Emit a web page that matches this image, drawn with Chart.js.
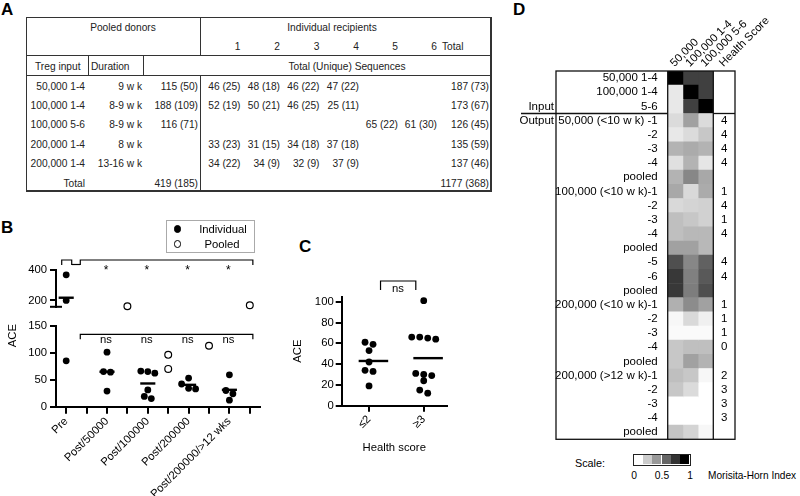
<!DOCTYPE html>
<html>
<head>
<meta charset="utf-8">
<script src="https://cdn.jsdelivr.net/npm/chart.js@4.4.1/dist/chart.umd.min.js"></script>
<style>
  body { margin: 0; background: #fff; }
  #page { position: relative; width: 800px; height: 496px; overflow: hidden; font-family: 'Liberation Sans', Arial, sans-serif; color: #000; }
  .t { position: absolute; white-space: nowrap; line-height: 1.15; }
  .ln { position: absolute; background: #333; }
  .letter { position: absolute; font-weight: bold; font-size: 17px; line-height: 1; }
  canvas { position: absolute; }
</style>
</head>
<body>
<div id="page">
  <div class="letter" style="left:1px;top:1px">A</div>
  <div class="letter" style="left:1px;top:219px">B</div>
  <div class="letter" style="left:299px;top:238px">C</div>
  <div class="letter" style="left:513px;top:1px">D</div>
  <canvas id="bTop" width="270" height="62" style="left:0;top:250px"></canvas>
  <canvas id="bLow" width="270" height="186" style="left:0;top:310px"></canvas>
  <canvas id="cChart" width="170" height="188" style="left:290px;top:270px"></canvas>
  <canvas id="dChart" width="285" height="445" style="left:515px;top:0"></canvas>
</div>
<script>
// ---- Panel A: sequence counts, total (unique)
const tregInput = ['50,000 1-4', '100,000 1-4', '100,000 5-6', '200,000 1-4', '200,000 1-4'];
const duration = ['9 w k', '8-9 w k', '8-9 w k', '8 w k', '13-16 w k'];
const pooledSeq = ['115 (50)', '188 (109)', '116 (71)', '', ''];
const recipientSeq = [
  ['46 (25)', '48 (18)', '46 (22)', '47 (22)', '', ''],
  ['52 (19)', '50 (21)', '46 (25)', '25 (11)', '', ''],
  ['', '', '', '', '65 (22)', '61 (30)'],
  ['33 (23)', '31 (15)', '34 (18)', '37 (18)', '', ''],
  ['34 (22)', '34 (9)', '32 (9)', '37 (9)', '', '']
];
const rowTotals = ['187 (73)', '173 (67)', '126 (45)', '135 (59)', '137 (46)'];
const pooledTotal = '419 (185)';
const grandTotal = '1177 (368)';

// ---- Panel B: ACE per slot (odd slots hold the pooled samples)
const bSlots = ['Pre', '', 'Post/50000', '', 'Post/100000', '', 'Post/200000', '', 'Post/200000/>12 wks', ''];
const bIndividual = [[368, 200, 85], [], [101, 65, 64, 29], [], [62, 66, 19, 65, 31, 15], [], [53, 42, 34, 33], [], [59, 30, 24, 12], []];
const bPooled = [[], [], [], [162], [], [96, 70], [], [113], [], [168]];
const bTopTicks = [200, 400];
const bLowTicks = [0, 50, 100, 150];
const bBreak = 155;

// ---- Panel C: ACE by health score
const cGroups = ['≤2', '≥3'];
const cLow = [61, 53, 59, 42, 34, 33, 19];
const cHigh = [101, 66, 64, 66, 65, 29, 31, 24, 30, 12, 15];
const cTicks = [0, 20, 40, 60, 80, 100];

// ---- Panel D: Morisita-Horn index vs each input
const dRows = ['50,000 1-4', '100,000 1-4', '5-6',
  '50,000 (<10 w k) -1', '-2', '-3', '-4', 'pooled',
  '100,000 (<10 w k)-1', '-2', '-3', '-4', 'pooled', '-5', '-6', 'pooled',
  '200,000 (<10 w k)-1', '-2', '-3', '-4', 'pooled',
  '200,000 (>12 w k)-1', '-2', '-3', '-4', 'pooled'];
const dColumns = ['50,000', '100,000 1-4', '100,000 5-6'];
const mh50k    = [1.00, 0.09, 0.09, 0.14, 0.09, 0.30, 0.12, 0.30, 0.34, 0.15, 0.25, 0.25, 0.37, 0.69, 0.78, 0.78, 0.31, 0.03, 0.02, 0.22, 0.22, 0.25, 0.22, 0.00, 0.00, 0.23];
const mh100k14 = [0.75, 1.00, 0.75, 0.37, 0.14, 0.33, 0.30, 0.47, 0.15, 0.17, 0.22, 0.28, 0.37, 0.47, 0.50, 0.51, 0.45, 0.15, 0.02, 0.25, 0.37, 0.22, 0.14, 0.00, 0.00, 0.17];
const mh100k56 = [0.75, 0.75, 1.00, 0.14, 0.22, 0.30, 0.10, 0.34, 0.33, 0.18, 0.18, 0.28, 0.28, 0.62, 0.65, 0.69, 0.37, 0.06, 0.02, 0.25, 0.30, 0.03, 0.00, 0.00, 0.00, 0.03];
const healthScore = [null, null, null, 4, 4, 4, 4, null, 1, 4, 1, 4, null, 4, 4, null, 1, 1, 1, 0, null, 2, 3, 3, 3, null];
const scaleSteps = [0, 0.2, 0.4, 0.6, 0.8, 1];
const scaleTicks = ['0', '0.5', '1'];

const page = document.getElementById('page');

function put(s, x, y, align, fs, color) {
  const d = document.createElement('div');
  d.className = 't';
  d.textContent = s;
  d.style.fontSize = fs + 'px';
  d.style.top = (y - fs * 0.575) + 'px';
  if (color) d.style.color = color;
  if (align === 'right') d.style.right = (800 - x) + 'px';
  else if (align === 'center') { d.style.left = x + 'px'; d.style.transform = 'translateX(-50%)'; }
  else d.style.left = x + 'px';
  page.appendChild(d);
  return d;
}

function rule(x, y, w, h) {
  const d = document.createElement('div');
  d.className = 'ln';
  Object.assign(d.style, { left: x + 'px', top: y + 'px', width: w + 'px', height: h + 'px' });
  page.appendChild(d);
}

function grayFor(v) {
  const g = Math.round(255 * (1 - v));
  return `rgb(${g},${g},${g})`;
}

// ---------- Panel A table
(function buildTable() {
  const fs = 10.2, ink = '#222';
  const rowY = [86.5, 106, 125, 144.5, 164];
  const recipX = [240.5, 280, 319.5, 359, 398, 437];
  rule(26, 17, 465, 1); rule(26, 190, 466, 2);
  rule(26, 17, 1, 174); rule(490, 17, 2, 175);
  rule(26, 55, 465, 1); rule(26, 75, 465, 1);
  rule(200, 17, 1, 38); rule(200, 75, 1, 116);
  rule(88, 55, 1, 20); rule(143, 55, 1, 20);

  put('Pooled donors', 123, 28, 'center', fs, ink);
  put('Individual recipients', 332, 28, 'center', fs, ink);
  recipX.forEach((x, i) => put(String(i + 1), x, 47, 'right', fs, ink));
  put('Total', 442, 47, 'left', fs, ink);
  put('Treg input', 35, 66.5, 'left', fs, ink);
  put('Duration', 91, 66.5, 'left', fs, ink);
  put('Total (Unique) Sequences', 347, 66.5, 'center', fs, ink);

  tregInput.forEach((s, r) => {
    const y = rowY[r];
    put(s, 85, y, 'right', fs, ink);
    put(duration[r], 142, y, 'right', fs, ink);
    if (pooledSeq[r]) put(pooledSeq[r], 198, y, 'right', fs, ink);
    recipientSeq[r].forEach((c, i) => { if (c) put(c, recipX[i], y, 'right', fs, ink); });
    put(rowTotals[r], 489, y, 'right', fs, ink);
  });
  put('Total', 85, 183.5, 'right', fs, ink);
  put(pooledTotal, 198, 183.5, 'right', fs, ink);
  put(grandTotal, 489, 183.5, 'right', fs, ink);
})();

// ---------- Panel B legend
(function buildLegend() {
  const box = document.createElement('div');
  Object.assign(box.style, { position: 'absolute', left: '166px', top: '220px', width: '87px', height: '31px', border: '1px solid #aaa' });
  page.appendChild(box);
  [['#000', 229], ['#fff', 244]].forEach(([fill, y]) => {
    const d = document.createElement('div');
    Object.assign(d.style, { position: 'absolute', left: '173.5px', top: (y - 3.7) + 'px', width: '5.6px', height: '5.6px',
      borderRadius: '50%', background: fill, border: '1.1px solid #000' });
    page.appendChild(d);
  });
  put('Individual', 223, 229, 'center', 11.3);
  put('Pooled', 222, 244, 'center', 11.3);
})();

// ---------- Panel D colour scale
(function buildScale() {
  put('Scale:', 575, 463, 'left', 10.8);
  const w = 56 / scaleSteps.length;
  scaleSteps.forEach((v, i) => {
    const d = document.createElement('div');
    Object.assign(d.style, { position: 'absolute', left: (633.5 + i * w) + 'px', top: '454px', width: w + 'px', height: '10px', background: grayFor(v) });
    page.appendChild(d);
  });
  const frame = document.createElement('div');
  Object.assign(frame.style, { position: 'absolute', left: '633px', top: '453.5px', width: '56px', height: '10px', border: '1px solid #222' });
  page.appendChild(frame);
  [634, 662, 690].forEach((x, i) => put(scaleTicks[i], x, 476, 'center', 10.3));
  put('Morisita-Horn Index', 708, 476, 'left', 10.1);
})();

// ---------- Chart helpers
Chart.defaults.font.family = "'Liberation Sans', Arial, sans-serif";
Chart.defaults.font.size = 11.3;
Chart.defaults.color = '#000';
Chart.defaults.animation = false;
Chart.defaults.plugins.legend.display = false;
Chart.defaults.plugins.tooltip.enabled = false;

const axisLine = { display: true, color: '#000', width: 2 };
const tickMarks = { drawOnChartArea: false, drawTicks: true, tickLength: 6, color: '#000', lineWidth: 2 };

function fixedTicks(list) { return s => { s.ticks = list.map(v => ({ value: v })); }; }
function fixY(w) { return s => { s.width = w; s.paddingTop = 0; s.paddingBottom = 0; }; }
function fixX(h) { return s => { s.height = h; s.paddingLeft = 0; s.paddingRight = 0; }; }

function pointsFor(groups, keep) {
  const pts = [];
  groups.forEach((vals, g) => vals.forEach(v => { if (keep(v)) pts.push({ x: g, y: v, g: g }); }));
  return pts;
}

function meanLines(groups, lo, hi, keep) {
  return groups.map((vals, g) => {
    if (!vals.length) return null;
    const m = vals.reduce((a, b) => a + b, 0) / vals.length;
    if (!keep(m)) return null;
    return { type: 'line', data: [{ x: g - lo, y: m }, { x: g + hi, y: m }], borderColor: '#000', borderWidth: 2.4, pointRadius: 0, clip: false };
  }).filter(Boolean);
}

const dots = (data) => ({ data, backgroundColor: '#000', borderColor: '#000', borderWidth: 0, pointRadius: 3.4, clip: false, swarm: true });
const rings = (data) => ({ data, backgroundColor: '#fff', borderColor: '#000', borderWidth: 1.2, pointRadius: 3.4, clip: false, swarm: true });

// spread points that sit at nearly the same height, like a column scatter plot
function swarm(chart, rowGap, step) {
  const xs = chart.scales.x, ys = chart.scales.y;
  const unit = xs.getPixelForValue(1) - xs.getPixelForValue(0);
  chart.data.datasets.forEach(ds => {
    if (!ds.swarm) return;
    const byGroup = {};
    ds.data.forEach(p => (byGroup[p.g] = byGroup[p.g] || []).push(p));
    Object.values(byGroup).forEach(pts => {
      pts.sort((a, b) => b.y - a.y);
      let row = [];
      const flush = () => {
        row.forEach((p, k) => { p.x = p.g + (k - (row.length - 1) / 2) * step / unit; });
        row = [];
      };
      pts.forEach(p => {
        if (row.length && ys.getPixelForValue(p.y) - ys.getPixelForValue(row[row.length - 1].y) >= rowGap) flush();
        row.push(p);
      });
      flush();
    });
    ds.data = ds.data.slice();
  });
  chart.update('none');
}

function seg(ctx, x1, y1, x2, y2) { ctx.beginPath(); ctx.moveTo(x1, y1); ctx.lineTo(x2, y2); ctx.stroke(); }
function bracket(ctx, x1, x2, y, leg) {
  ctx.beginPath(); ctx.moveTo(x1, y + leg); ctx.lineTo(x1, y); ctx.lineTo(x2, y); ctx.lineTo(x2, y + leg); ctx.stroke();
}

// ---------- Panel B, upper segment
const upperDecor = {
  id: 'upperDecor',
  afterDraw(chart) {
    const { ctx, chartArea: ca, scales: { x } } = chart;
    ctx.save();
    ctx.strokeStyle = '#000';
    ctx.lineWidth = 2;
    seg(ctx, ca.left - 6, ca.bottom, ca.left + 6, ca.bottom);
    ctx.lineWidth = 1.2;
    const yb = ca.top - 10;
    bracket(ctx, x.getPixelForValue(-0.22), x.getPixelForValue(0.27), yb, 5);
    seg(ctx, x.getPixelForValue(0.27), yb + 4.5, x.getPixelForValue(0.69), yb + 4.5);
    bracket(ctx, x.getPixelForValue(0.69), x.getPixelForValue(9.15), yb, 5);
    ctx.fillStyle = '#000';
    ctx.font = "12px 'Liberation Sans', Arial, sans-serif";
    ctx.textAlign = 'center';
    ctx.textBaseline = 'alphabetic';
    [2, 4, 6, 8].forEach(g => ctx.fillText('*', x.getPixelForValue(g) - 1, ca.top + 4));
    ctx.restore();
  }
};

const bTop = new Chart(document.getElementById('bTop'), {
  type: 'scatter',
  data: { datasets: [
    dots(pointsFor(bIndividual, v => v > bBreak)),
    rings(pointsFor(bPooled, v => v > bBreak)),
    ...meanLines(bIndividual, 0.37, 0.37, v => v > bBreak)
  ] },
  options: {
    responsive: false,
    layout: { padding: { top: 20, bottom: 3.7, left: 0, right: 10 } },
    scales: {
      x: { type: 'linear', min: -0.5, max: 9.5, display: false },
      y: { min: 158, max: 400, afterBuildTicks: fixedTicks(bTopTicks), afterFit: fixY(56),
           border: axisLine, grid: tickMarks, ticks: { padding: 3 } }
    }
  },
  plugins: [upperDecor]
});
swarm(bTop, 5, 7);

// ---------- Panel B, lower segment
const lowerDecor = {
  id: 'lowerDecor',
  afterDraw(chart) {
    const { ctx, chartArea: ca, scales: { x } } = chart;
    ctx.save();
    ctx.strokeStyle = '#000';
    ctx.lineWidth = 1.2;
    const yb = ca.top + 8.6;
    bracket(ctx, x.getPixelForValue(0.69), x.getPixelForValue(9.15), yb, 5);
    ctx.fillStyle = '#000';
    ctx.font = "11.3px 'Liberation Sans', Arial, sans-serif";
    ctx.textAlign = 'center';
    ctx.textBaseline = 'alphabetic';
    [2, 4, 6, 8].forEach(g => ctx.fillText('ns', x.getPixelForValue(g) - 1, yb + 8.5));
    ctx.translate(ca.left - 43, ca.top + 10);
    ctx.rotate(-Math.PI / 2);
    ctx.textBaseline = 'middle';
    ctx.fillText('ACE', 0, 0);
    ctx.restore();
  }
};

const bLow = new Chart(document.getElementById('bLow'), {
  type: 'scatter',
  data: { datasets: [
    dots(pointsFor(bIndividual, v => v <= bBreak)),
    rings(pointsFor(bPooled, v => v <= bBreak)),
    ...meanLines(bIndividual, 0.37, 0.37, v => v <= bBreak)
  ] },
  options: {
    responsive: false,
    layout: { padding: { top: 15.7, bottom: 0, left: 0, right: 10 } },
    scales: {
      x: { type: 'linear', min: -0.5, max: 9.5, afterBuildTicks: fixedTicks(bSlots.map((_, i) => i)), afterFit: fixX(89.3),
           border: axisLine, grid: Object.assign({}, tickMarks, { tickLength: 7 }),
           ticks: { autoSkip: false, minRotation: 45, maxRotation: 45, padding: 1, callback: v => bSlots[v] } },
      y: { min: 0, max: 150, afterBuildTicks: fixedTicks(bLowTicks), afterFit: fixY(56),
           border: axisLine, grid: tickMarks, ticks: { padding: 3 } }
    }
  },
  plugins: [lowerDecor]
});
swarm(bLow, 5, 7);

// ---------- Panel C
const cDecor = {
  id: 'cDecor',
  afterDraw(chart) {
    const { ctx, chartArea: ca, scales: { x } } = chart;
    ctx.save();
    ctx.strokeStyle = '#000';
    ctx.lineWidth = 1.2;
    const yb = ca.top - 15.5;
    bracket(ctx, x.getPixelForValue(0.21), x.getPixelForValue(0.855), yb, 9);
    ctx.fillStyle = '#000';
    ctx.font = "11.3px 'Liberation Sans', Arial, sans-serif";
    ctx.textAlign = 'center';
    ctx.fillText('ns', x.getPixelForValue(0.53), yb + 10.5);
    ctx.restore();
  }
};

const cChart = new Chart(document.getElementById('cChart'), {
  type: 'scatter',
  data: { datasets: [
    dots(pointsFor([cLow, cHigh], () => true)),
    ...meanLines([cLow, cHigh], 0.19, 0.35, () => true)
  ] },
  options: {
    responsive: false,
    layout: { padding: { top: 26.5, bottom: 0, left: 0, right: 13.3 } },
    scales: {
      x: { type: 'linear', min: -0.5, max: 1.42, afterBuildTicks: fixedTicks([0, 1]), afterFit: fixX(52.3),
           border: axisLine, grid: tickMarks,
           ticks: { autoSkip: false, minRotation: 45, maxRotation: 45, padding: 1, callback: v => cGroups[v] },
           title: { display: true, text: 'Health score', padding: { top: 4, bottom: 3.5 } } },
      y: { min: 0, max: 105, afterBuildTicks: fixedTicks(cTicks), afterFit: fixY(51.7),
           border: axisLine, grid: tickMarks, ticks: { padding: 2 },
           title: { display: true, text: 'ACE', padding: { top: 0.7, bottom: 0 } } }
    }
  },
  plugins: [cDecor]
});
swarm(cChart, 5, 8);

// ---------- Panel D heat map
const dDecor = {
  id: 'dDecor',
  afterDraw(chart) {
    const { ctx, chartArea: ca, scales: { x, y } } = chart;
    const boxLeft = ca.left - 111.7, boxRight = ca.right + 21.7;
    const rowY = i => y.getPixelForValue(i);
    ctx.save();
    ctx.strokeStyle = '#111';
    ctx.lineWidth = 1.3;
    ctx.strokeRect(boxLeft, ca.top, boxRight - boxLeft, ca.bottom - ca.top);
    seg(ctx, ca.left, ca.top, ca.left, ca.bottom);
    seg(ctx, ca.right, ca.top, ca.right, ca.bottom);
    const sep = (rowY(2) + rowY(3)) / 2;
    seg(ctx, boxLeft - 35, sep, ca.left, sep);
    seg(ctx, ca.right, sep, boxRight, sep);

    ctx.fillStyle = '#000';
    ctx.font = "11.5px 'Liberation Sans', Arial, sans-serif";
    ctx.textBaseline = 'middle';
    ctx.textAlign = 'right';
    ctx.fillText('Input', boxLeft - 2, rowY(2));
    ctx.fillText('Output', boxLeft - 2, rowY(3));
    ctx.textAlign = 'center';
    healthScore.forEach((h, i) => { if (h !== null) ctx.fillText(String(h), ca.right + 11, rowY(i)); });

    ctx.textAlign = 'left';
    ctx.font = "11.3px 'Liberation Sans', Arial, sans-serif";
    const heads = dColumns.map((s, c) => [s, x.getPixelForValue(c + 0.5)]).concat([['Health Score', ca.right + 11]]);
    heads.forEach(([s, px]) => {
      ctx.save();
      ctx.translate(px - 3, ca.top - 6);
      ctx.rotate(-Math.PI / 4);
      ctx.fillText(s, 0, 0);
      ctx.restore();
    });
    ctx.restore();
  }
};

const mhColumns = [mh50k, mh100k14, mh100k56];
const dChart = new Chart(document.getElementById('dChart'), {
  type: 'bar',
  data: {
    labels: dRows,
    datasets: mhColumns.map((vals, c) => ({
      label: dColumns[c],
      data: vals.map(() => [c, c + 1]),
      backgroundColor: vals.map(grayFor),
      borderWidth: 0,
      grouped: false,
      barPercentage: 1,
      categoryPercentage: 1
    }))
  },
  options: {
    responsive: false,
    indexAxis: 'y',
    layout: { padding: { top: 71, bottom: 5.7, left: 0, right: 86.7 } },
    scales: {
      x: { type: 'linear', min: 0, max: 3, display: false },
      y: { type: 'category', afterFit: fixY(152.7), grid: { display: false }, border: { display: false },
           ticks: { autoSkip: false, padding: 2, font: { size: 11.5 } } }
    }
  },
  plugins: [dDecor]
});
</script>
</body>
</html>
